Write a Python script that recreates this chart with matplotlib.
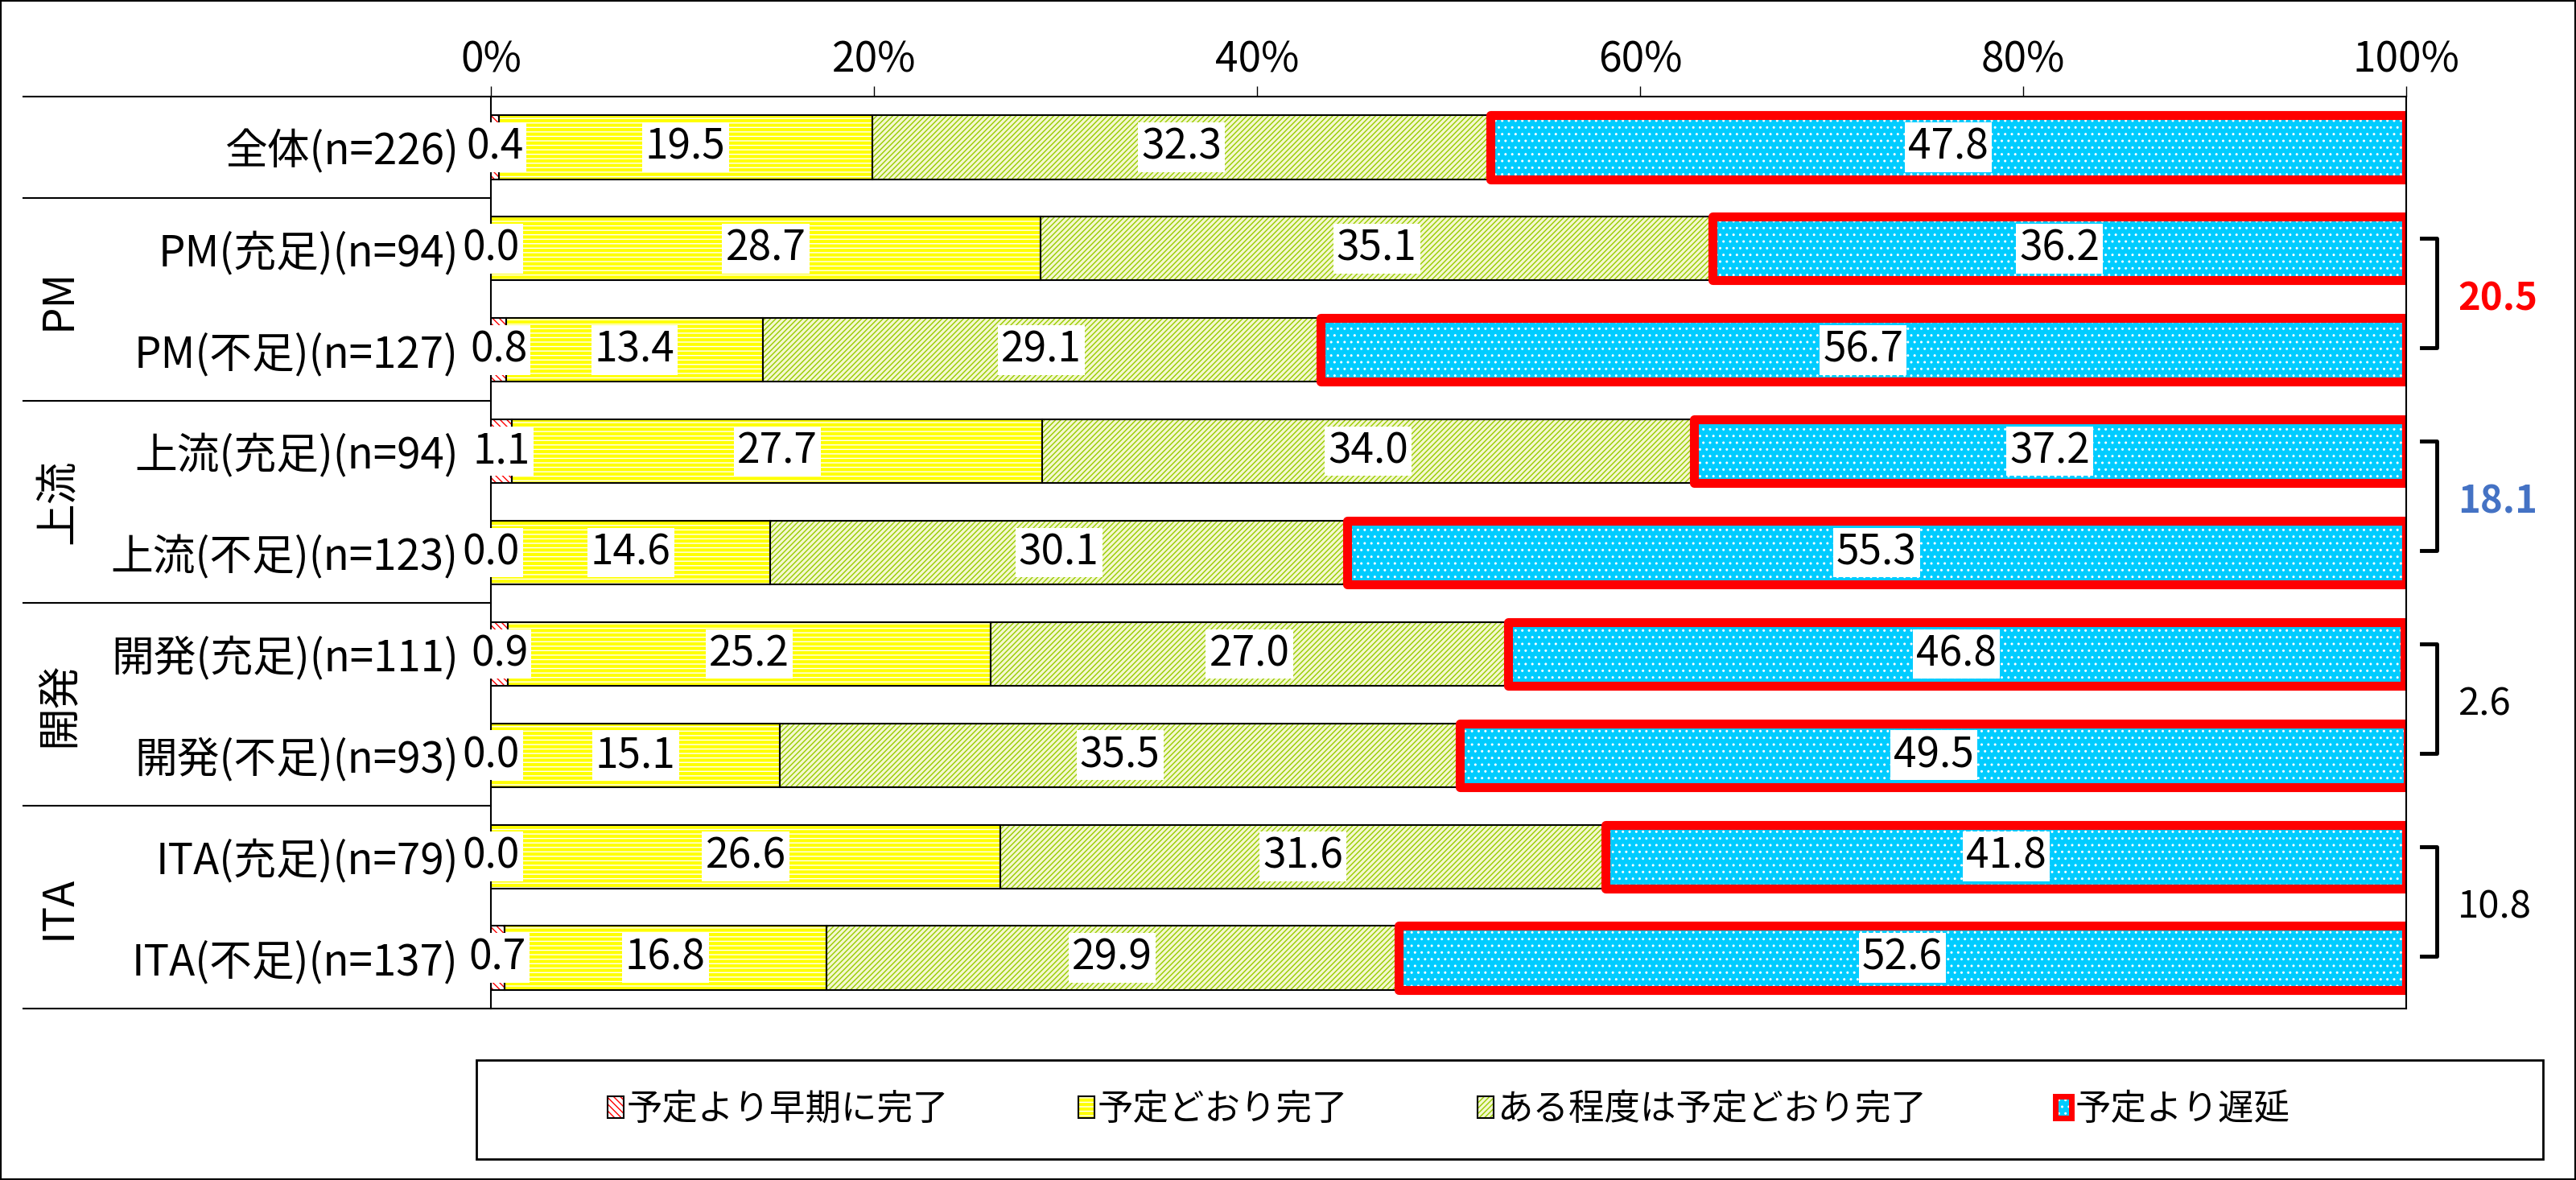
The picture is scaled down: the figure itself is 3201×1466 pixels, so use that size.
import matplotlib
matplotlib.use("Agg")
import matplotlib.pyplot as plt
import matplotlib.transforms as mtransforms
from matplotlib.patches import Rectangle, Patch
import numpy as np

plt.rcParams['font.family'] = ['Noto Sans CJK JP', 'DejaVu Sans']
plt.rcParams['hatch.linewidth'] = 1.0

# ---- data ----
categories = [
    "全体(n=226)",
    "PM(充足)(n=94)", "PM(不足)(n=127)",
    "上流(充足)(n=94)", "上流(不足)(n=123)",
    "開発(充足)(n=111)", "開発(不足)(n=93)",
    "ITA(充足)(n=79)", "ITA(不足)(n=137)",
]
series_names = ["予定より早期に完了", "予定どおり完了", "ある程度は予定どおり完了", "予定より遅延"]
early = [0.4, 0.0, 0.8, 1.1, 0.0, 0.9, 0.0, 0.0, 0.7]
ontime = [19.5, 28.7, 13.4, 27.7, 14.6, 25.2, 15.1, 26.6, 16.8]
mostly = [32.3, 35.1, 29.1, 34.0, 30.1, 27.0, 35.5, 31.6, 29.9]
delayed = [47.8, 36.2, 56.7, 37.2, 55.3, 46.8, 49.5, 41.8, 52.6]

groups = ["PM", "上流", "開発", "ITA"]
group_rows = [(1, 2), (3, 4), (5, 6), (7, 8)]
gap_labels = ["20.5", "18.1", "2.6", "10.8"]
gap_colors = ["#FF0000", "#4472C4", "black", "black"]
gap_bold = [True, True, False, False]

xticks = [0, 20, 40, 60, 80, 100]

# ---- styles ----
styles = [
    dict(face="white", hcol="#FF0000", hatch="\\\\\\\\", edge="black", lw=1.5),
    dict(face="#FFFF00", hcol="white", hatch="---", edge="black", lw=1.5),
    dict(face="#F4F8D0", hcol="#99CC00", hatch="/////", edge="black", lw=1.5),
    dict(face="#00CCFF", hcol="white", hatch="..", edge="#FF0000", lw=8),
]

W, H = 3201, 1466
fig = plt.figure(figsize=(W / 100, H / 100), dpi=100)
ax = fig.add_axes([610 / W, 1 - 1253 / H, 2380 / W, 1133 / H])

y = np.arange(len(categories))
bar_h = 0.63
left = np.zeros(len(categories))
handles = []
for k, vals in enumerate([early, ontime, mostly, delayed]):
    st = styles[k]
    vals = np.array(vals)
    ax.barh(y, vals, left=left, height=bar_h, color=st["face"], edgecolor=st["hcol"],
            hatch=st["hatch"], linewidth=0, zorder=2 + k * 0.1)
    ax.barh(y, vals, left=left, height=bar_h, fill=False, edgecolor=st["edge"],
            linewidth=st["lw"], joinstyle="round" if k == 3 else "miter", zorder=2.05 + k * 0.1)
    for i, v in enumerate(vals):
        ax.text(left[i] + v / 2, i, f"{v:.1f}", ha="center", va="center", fontsize=37,
                bbox=dict(boxstyle="square,pad=0.08", fc="white", ec="none"), zorder=6)
    left += vals
    handles.append((
        Patch(facecolor=st["face"], edgecolor=st["hcol"], hatch=st["hatch"], linewidth=0),
        Patch(fill=False, edgecolor=st["edge"], linewidth=5 if k == 3 else 1.5),
    ))

ax.set_xlim(0, 100)
ax.set_ylim(len(categories) - 0.5, -0.5)
ax.xaxis.tick_top()
ax.set_xticks(xticks)
ax.set_xticklabels([f"{t}%" for t in xticks])
ax.tick_params(axis="x", length=9.4, width=1, labelsize=37, pad=4, direction="out")
ax.set_yticks(y)
ax.set_yticklabels(categories)
ax.tick_params(axis="y", length=0, labelsize=38, pad=29)
for sp in ax.spines.values():
    sp.set_linewidth(1.5)
    sp.set_color("black")

# separators on the left
trans = mtransforms.blended_transform_factory(ax.transAxes, ax.transData)
x_left = (29 - 610) / 2380
for b in [0.5, 2.5, 4.5, 6.5]:
    ax.plot([x_left, 0], [b, b], transform=trans, color="black", lw=1.5, clip_on=False)
for b in [-0.5, len(categories) - 0.5]:
    ax.plot([x_left, 0], [b, b], transform=trans, color="black", lw=1.5, clip_on=False)

for name, (r1, r2) in zip(groups, group_rows):
    ax.text(-0.226, (r1 + r2) / 2, name, transform=trans, rotation=90,
            ha="center", va="center", fontsize=38)

# brackets with differences
for (r1, r2), lab, col, bold in zip(group_rows, gap_labels, gap_colors, gap_bold):
    ax.plot([100.8, 101.6, 101.6, 100.8], [r1 - 0.1, r1 - 0.1, r2 - 0.02, r2 - 0.02],
            color="black", lw=3.5, clip_on=False, solid_joinstyle="round")
    ax.text(102.7, (r1 + r2) / 2, lab, ha="left", va="center", fontsize=34, color=col,
            fontweight="bold" if bold else "normal", clip_on=False)

# legend
fig.legend(handles, series_names, loc="center", bbox_to_anchor=(1800 / W, 1 - 1378 / H),
           ncol=4, frameon=False, fontsize=32, handlelength=0.45, handleheight=0.55,
           handletextpad=0.1, columnspacing=3.6)
fig.add_artist(Rectangle((592 / W, 1 - 1440 / H), (3160 - 592) / W, 123 / H,
                         transform=fig.transFigure, fill=False, ec="black", lw=2))
fig.add_artist(Rectangle((0, 0), 1, 1, transform=fig.transFigure, fill=False, ec="black", lw=3))

fig.savefig("out.png", dpi=100)
